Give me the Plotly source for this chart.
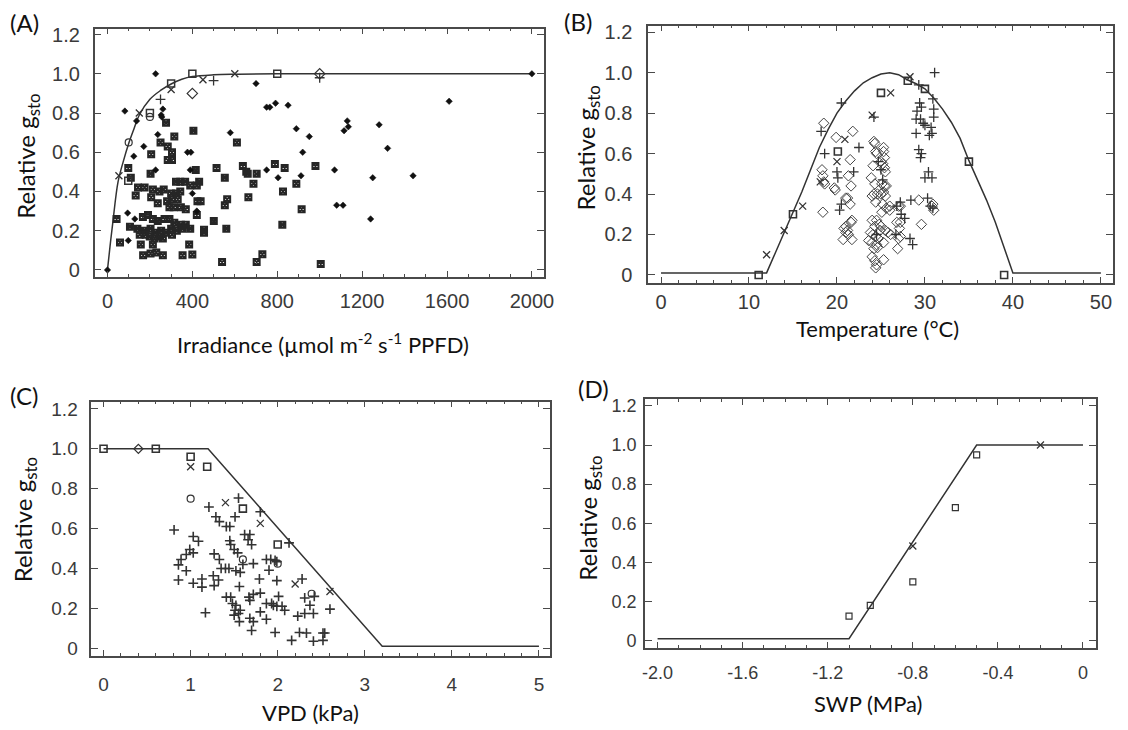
import plotly.graph_objects as go

# ---------------- Panel A : Irradiance ----------------
A_curve_x = [0, 12, 25, 50, 75, 100, 125, 150, 200, 250, 300, 350, 400, 500, 600, 800, 2000]
A_curve_y = [0, 0.12, 0.24, 0.45, 0.555, 0.645, 0.72, 0.79, 0.87, 0.915, 0.948, 0.972, 0.986, 0.995, 0.998, 1.0, 1.0]

A_star_x = [276, 405, 250, 315, 284, 304, 206, 284, 304, 98, 110, 203, 416, 43, 59, 106, 144, 175, 133, 214, 245, 265,
            300, 323, 343, 206, 237, 281, 304, 331, 292, 312, 346, 369, 323, 343, 366, 390, 421, 432, 424, 439, 421,
            167, 191, 214, 237, 269, 292, 315, 346, 369, 141, 175, 203, 225, 253, 276, 300, 327, 354, 390, 152, 180,
            199, 222, 245, 261, 214, 304, 157, 385, 168, 203, 230, 261, 354, 400, 455, 455, 501, 560, 553, 564, 514,
            553, 610, 638, 654, 661, 688, 664, 703, 789, 827, 824, 540, 703, 730, 835, 890, 980, 915, 1005]
A_star_y = [0.75, 0.71, 0.65, 0.68, 0.63, 0.60, 0.59, 0.56, 0.56, 0.52, 0.47, 0.49, 0.51, 0.26, 0.14, 0.22, 0.42, 0.42,
            0.38, 0.41, 0.40, 0.41, 0.39, 0.39, 0.40, 0.37, 0.34, 0.35, 0.36, 0.36, 0.32, 0.32, 0.32, 0.31, 0.45, 0.45,
            0.45, 0.43, 0.43, 0.45, 0.35, 0.35, 0.28, 0.27, 0.28, 0.26, 0.25, 0.26, 0.26, 0.24, 0.23, 0.23, 0.21, 0.20,
            0.21, 0.19, 0.20, 0.19, 0.21, 0.20, 0.21, 0.21, 0.18, 0.18, 0.17, 0.16, 0.17, 0.16, 0.13, 0.18, 0.13, 0.13,
            0.075, 0.084, 0.089, 0.075, 0.075, 0.079, 0.205, 0.19, 0.25, 0.21, 0.33, 0.36, 0.52, 0.47, 0.65, 0.53,
            0.50, 0.49, 0.44, 0.37, 0.49, 0.54, 0.40, 0.23, 0.04, 0.04, 0.08, 0.52, 0.44, 0.53, 0.31, 0.03]

A_dot_x = [82, 137, 261, 253, 256, 237, 171, 124, 377, 393, 227, 390, 95, 98, 129, 400, 421, 579, 750, 804, 750, 765,
           792, 851, 700, 227, 1610, 890, 951, 920, 1130, 1135, 1115, 1280, 1320, 1070, 1250, 1440, 1080, 1110, 1240,
           0, 2000, 912]
A_dot_y = [0.81, 0.76, 0.82, 0.79, 0.78, 0.69, 0.63, 0.58, 0.60, 0.60, 0.51, 0.51, 0.29, 0.15, 0.26, 0.39, 0.30, 0.70,
           0.51, 0.47, 0.83, 0.83, 0.85, 0.84, 0.95, 1.0, 0.86, 0.72, 0.68, 0.60, 0.76, 0.73, 0.71, 0.74, 0.62, 0.51,
           0.47, 0.48, 0.33, 0.33, 0.26, 0.0, 1.0, 0.48]

A_sq_x = [98, 200, 300, 400, 800]
A_sq_y = [0.455, 0.80, 0.95, 1.0, 1.0]
A_x_x = [54, 150, 300, 450, 600]
A_x_y = [0.48, 0.80, 0.92, 0.97, 1.0]
A_plus_x = [250, 500, 1000]
A_plus_y = [0.87, 0.965, 0.98]
A_dia_x = [400, 1000]
A_dia_y = [0.90, 1.0]
A_circ_x = [100, 200]
A_circ_y = [0.65, 0.78]

# ---------------- Panel B : Temperature ----------------
B_curve_x = [0, 12, 13, 14, 15, 16, 17, 18, 19, 20, 21, 22, 23, 24, 25, 26, 27, 28, 29, 30, 31, 32, 33, 34, 35, 36,
             37, 38, 39, 40, 50]
B_curve_y = [0.01, 0.01, 0.11, 0.21, 0.31, 0.41, 0.52, 0.63, 0.72, 0.80, 0.86, 0.91, 0.95, 0.975, 0.993, 1.0, 0.99,
             0.965, 0.945, 0.92, 0.875, 0.82, 0.755, 0.675, 0.565, 0.47, 0.37, 0.26, 0.14, 0.01, 0.01]

B_sq_x = [11.1, 15.0, 20.1, 25.0, 28.05, 30.0, 35.0, 39.0]
B_sq_y = [0.0, 0.30, 0.61, 0.90, 0.96, 0.92, 0.56, 0.0]
B_x_x = [12.0, 14.0, 16.1, 18.1, 20.0, 20.9, 24.0, 26.1, 28.3]
B_x_y = [0.10, 0.22, 0.34, 0.46, 0.56, 0.67, 0.79, 0.90, 0.98]
B_plus_x = [29.3, 29.4, 29.6, 29.1, 29.0, 29.5, 29.0, 29.3, 29.5, 29.6, 29.8, 30.0, 30.7, 30.8, 30.5, 30.9, 31.0,
            31.0, 30.0, 30.4, 30.8, 30.3, 30.6, 30.9, 28.4, 27.3, 27.7, 28.3, 28.6, 27.2, 31.1, 26.8, 25.0, 24.7,
            25.2, 24.2, 22.5, 21.9, 20.0, 20.1, 20.5, 20.3, 18.6, 18.2, 20.5, 26.7, 24.5]
B_plus_y = [0.94, 0.85, 0.83, 0.81, 0.77, 0.77, 0.70, 0.62, 0.58, 0.60, 0.75, 0.74, 0.73, 0.70, 0.69, 0.87, 0.82,
            0.78, 0.48, 0.51, 0.48, 0.38, 0.34, 0.33, 0.37, 0.30, 0.28, 0.18, 0.15, 0.36, 1.0, 0.34, 0.52, 0.56,
            0.47, 0.78, 0.63, 0.51, 0.51, 0.48, 0.35, 0.32, 0.60, 0.71, 0.85, 0.20, 0.20]
B_dia_x = [18.3, 18.4, 18.5, 18.6, 18.4, 18.5, 19.9, 19.7, 19.8, 21.8, 21.5, 21.3, 21.6, 21.5, 21.2, 21.0, 21.7, 21.6,
           21.0, 21.2, 21.0, 21.3, 20.8, 20.7, 21.7, 24.2, 24.3, 24.4, 24.5, 25.3, 25.3, 25.4, 25.0, 25.2, 25.4, 25.5,
           24.1, 23.9, 24.3, 25.1, 25.4, 25.6, 24.2, 24.6, 25.3, 25.0, 24.0, 25.5, 24.4, 25.2, 25.6, 26.0, 25.1, 24.0,
           24.5, 24.8, 24.3, 24.9, 23.8, 24.1, 24.4, 24.7, 23.6, 24.0, 24.5, 25.3, 24.2, 24.0, 24.3, 24.5, 24.4, 25.3,
           25.8, 26.1, 25.5, 25.0, 26.0, 24.6, 27.0, 27.2, 26.8, 27.2, 27.1, 27.2, 27.0, 26.9, 29.3, 29.6, 30.9, 31.0,
           30.8]
B_dia_y = [0.52, 0.49, 0.46, 0.45, 0.31, 0.75, 0.68, 0.43, 0.42, 0.71, 0.57, 0.49, 0.44, 0.35, 0.38, 0.38, 0.27, 0.26,
           0.24, 0.22, 0.21, 0.20, 0.23, 0.175, 0.175, 0.66, 0.65, 0.61, 0.60, 0.63, 0.61, 0.58, 0.56, 0.55, 0.53, 0.51,
           0.54, 0.48, 0.45, 0.45, 0.44, 0.44, 0.40, 0.40, 0.41, 0.40, 0.39, 0.39, 0.36, 0.35, 0.33, 0.34, 0.31, 0.27,
           0.27, 0.25, 0.24, 0.22, 0.21, 0.20, 0.19, 0.18, 0.17, 0.16, 0.15, 0.16, 0.13, 0.09, 0.07, 0.05, 0.035, 0.075,
           0.21, 0.20, 0.22, 0.24, 0.32, 0.135, 0.34, 0.34, 0.26, 0.26, 0.23, 0.19, 0.18, 0.13, 0.37, 0.25, 0.35, 0.32,
           0.34]

# ---------------- Panel C : VPD ----------------
C_curve_x = [0, 1.2, 3.2, 5.0]
C_curve_y = [1.0, 1.0, 0.01, 0.01]

C_sq_x = [0.0, 0.6, 1.0, 1.19, 1.6, 2.0]
C_sq_y = [1.0, 1.0, 0.96, 0.91, 0.70, 0.52]
C_dia_x = [0.4]
C_dia_y = [1.0]
C_circ_x = [1.0, 1.6, 2.0, 2.39]
C_circ_y = [0.75, 0.445, 0.424, 0.273]
C_x_x = [1.0, 1.4, 1.8, 2.2, 2.6]
C_x_y = [0.91, 0.73, 0.626, 0.322, 0.284]
C_plus_x = [0.81, 1.21, 1.29, 1.33, 1.41, 1.45, 1.55, 1.51, 1.62, 1.66, 1.70, 1.80, 2.13, 1.03, 1.09, 0.99, 1.03,
            0.95, 0.89, 0.86, 0.95, 0.86, 1.03, 1.13, 1.13, 1.17, 1.27, 1.33, 1.35, 1.40, 1.44, 1.26, 1.32, 1.27,
            1.45, 1.46, 1.50, 1.54, 1.52, 1.57, 1.41, 1.46, 1.48, 1.52, 1.51, 1.57, 1.50, 1.55, 1.56, 1.56, 1.60,
            1.72, 1.67, 1.68, 1.72, 1.68, 1.72, 1.70, 1.79, 1.80, 1.80, 1.87, 1.93, 1.87, 1.87, 1.92, 1.97, 1.99,
            1.90, 1.95, 1.99, 1.99, 2.01, 2.05, 2.08, 1.97, 2.23, 2.28, 2.31, 2.37, 2.42, 2.41, 2.31, 2.25, 2.33,
            2.16, 2.41, 2.52, 2.54, 2.52, 2.60, 1.68]
C_plus_y = [0.593, 0.708, 0.659, 0.635, 0.61, 0.61, 0.753, 0.659, 0.57, 0.544, 0.519, 0.684, 0.528, 0.56, 0.536,
            0.495, 0.478, 0.47, 0.445, 0.418, 0.388, 0.342, 0.326, 0.347, 0.306, 0.178, 0.473, 0.445, 0.40, 0.40,
            0.40, 0.363, 0.342, 0.314, 0.539, 0.52, 0.495, 0.478, 0.388, 0.38, 0.256, 0.256, 0.224, 0.215, 0.19,
            0.19, 0.166, 0.174, 0.309, 0.133, 0.42, 0.424, 0.256, 0.24, 0.27, 0.15, 0.133, 0.089, 0.347, 0.276,
            0.182, 0.224, 0.224, 0.145, 0.445, 0.445, 0.44, 0.434, 0.391, 0.215, 0.21, 0.339, 0.26, 0.21, 0.19,
            0.079, 0.161, 0.347, 0.252, 0.215, 0.26, 0.174, 0.174, 0.079, 0.076, 0.039, 0.035, 0.076, 0.076,
            0.039, 0.196, 0.57]

# ---------------- Panel D : SWP ----------------
D_curve_x = [-2.0, -1.1, -0.5, 0.0]
D_curve_y = [0.01, 0.01, 1.0, 1.0]
D_sq_x = [-1.10, -1.00, -0.80, -0.60, -0.50]
D_sq_y = [0.125, 0.18, 0.30, 0.68, 0.95]
D_x_x = [-0.80, -0.20]
D_x_y = [0.484, 1.0]

# ---------------- Figure ----------------
W, H = 1128, 730
INK = "#333333"
FRAME = "#4a4a4a"
TICKFONT = "Liberation Sans"
TITLEFONT = "Lato"


def px(x):
    return x / W


def py(y):
    return 1 - y / H


fig = go.Figure()


def add_pts(ax, xs, ys, symbol, size, lw, color=INK):
    fig.add_trace(go.Scatter(x=xs, y=ys, xaxis="x" + ax, yaxis="y" + ax, mode="markers",
                             marker=dict(symbol=symbol, size=size, color=color,
                                         line=dict(width=lw, color=color)),
                             showlegend=False, hoverinfo="skip"))


def add_curve(ax, xs, ys, shape="linear"):
    fig.add_trace(go.Scatter(x=xs, y=ys, xaxis="x" + ax, yaxis="y" + ax, mode="lines",
                             line=dict(color=INK, width=1.5, shape=shape),
                             showlegend=False, hoverinfo="skip"))


# Panel A (axes "" -> x/y)
add_curve("", A_curve_x, A_curve_y, "spline")
add_pts("", A_star_x, A_star_y, "square-x-open", 6, 2.0, "#262626")
add_pts("", A_dot_x, A_dot_y, "diamond", 5, 0.5, "#111111")
add_pts("", A_sq_x, A_sq_y, "square-open", 7, 1.5)
add_pts("", A_x_x, A_x_y, "x-thin-open", 7, 1.3)
add_pts("", A_plus_x, A_plus_y, "cross-thin-open", 7, 1.3)
add_pts("", A_dia_x, A_dia_y, "diamond-open", 8, 1.2)
add_pts("", A_circ_x, A_circ_y, "circle-open", 7, 1.2)

# Panel B
add_curve("2", B_curve_x, B_curve_y)
add_pts("2", B_dia_x, B_dia_y, "diamond-open", 8, 1.0, "#444444")
add_pts("2", B_plus_x, B_plus_y, "cross-thin-open", 7, 1.3)
add_pts("2", B_x_x, B_x_y, "x-thin-open", 7, 1.3)
add_pts("2", B_sq_x, B_sq_y, "square-open", 7, 1.6)

# Panel C
add_curve("3", C_curve_x, C_curve_y)
add_pts("3", C_plus_x, C_plus_y, "cross-thin-open", 7, 1.6)
add_pts("3", C_x_x, C_x_y, "x-thin-open", 7, 1.3)
add_pts("3", C_sq_x, C_sq_y, "square-open", 7, 1.6)
add_pts("3", C_circ_x, C_circ_y, "circle-open", 7, 1.2)
add_pts("3", C_dia_x, C_dia_y, "diamond-open", 7, 1.2)

# Panel D
add_curve("4", D_curve_x, D_curve_y)
add_pts("4", D_sq_x, D_sq_y, "square-open", 6, 1.2)
add_pts("4", D_x_x, D_x_y, "x-thin-open", 7, 1.2)


def xaxis(domain, rng, dtick, minor_dtick, standoff, fs, tickvals=None, ticktext=None, anchor="y"):
    d = dict(domain=domain, range=rng, anchor=anchor, showgrid=False, zeroline=False,
             showline=True, linecolor=FRAME, linewidth=1.5, mirror="ticks",
             ticks="inside", ticklen=6, tickwidth=1.3, tickcolor=FRAME,
             minor=dict(ticks="inside", ticklen=3, tickwidth=1.1, tickcolor=FRAME, dtick=minor_dtick),
             tickfont=dict(family=TICKFONT, size=fs, color="#3a3a3a"),
             ticklabelstandoff=standoff, fixedrange=True)
    if tickvals is not None:
        d.update(tickmode="array", tickvals=tickvals, ticktext=ticktext)
    else:
        d.update(tick0=0, dtick=dtick)
    return d


YT = [0, 0.2, 0.4, 0.6, 0.8, 1.0, 1.2]
YL = ["0", "0.2", "0.4", "0.6", "0.8", "1.0", "1.2"]


def yaxis(domain, rng, standoff, fs, anchor):
    return dict(domain=domain, range=rng, anchor=anchor, showgrid=False, zeroline=False,
                showline=True, linecolor=FRAME, linewidth=1.5, mirror="ticks",
                ticks="inside", ticklen=7, tickwidth=1.3, tickcolor=FRAME,
                tickmode="array", tickvals=YT, ticktext=YL,
                tickfont=dict(family=TICKFONT, size=fs, color="#3a3a3a"),
                ticklabelstandoff=standoff, fixedrange=True)


# pixel boxes (left, right, top, bottom)
boxA = (92.7, 547.3, 24, 275)
boxB = (652.7, 1122.7, 21, 281.7)
boxC = (89.3, 553.3, 401.7, 659)
boxD = (649.3, 1105.5, 399, 650.7)


def dom(b):
    return [px(b[0]), px(b[1])], [py(b[3]), py(b[2])]


dAx, dAy = dom(boxA)
dBx, dBy = dom(boxB)
dCx, dCy = dom(boxC)
dDx, dDy = dom(boxD)

fig.update_layout(
    width=W, height=H, margin=dict(l=0, r=0, t=0, b=0),
    paper_bgcolor="white", plot_bgcolor="white", showlegend=False,
    xaxis=xaxis(dAx, [-60.5, 2057], 400, 100, 6, 20, anchor="y"),
    yaxis=yaxis(dAy, [-0.034, 1.230], 9, 20, "x"),
    xaxis2=xaxis(dBx, [-1.46, 51.35], 10, 2, 0, 20, anchor="y2"),
    yaxis2=yaxis(dBy, [-0.041, 1.232], 10, 20, "x2"),
    xaxis3=xaxis(dCx, [-0.141, 5.126], 1, 0.2, 11, 19, anchor="y3"),
    yaxis3=yaxis(dCy, [-0.0386, 1.236], 8, 19, "x3"),
    xaxis4=xaxis(dDx, [-2.060, 0.060], None, 0.1, 8, 18,
                 tickvals=[-2.0, -1.6, -1.2, -0.8, -0.4, 0.0],
                 ticktext=["-2.0", "-1.6", "-1.2", "-0.8", "-0.4", "0"], anchor="y4"),
    yaxis4=yaxis(dDy, [-0.036, 1.235], 3, 18, "x4"),
)
fig.layout.xaxis4.minor.tick0 = 0


def label(text, x, y, size, angle=0, color="#111111"):
    fig.add_annotation(text=text, x=px(x), y=py(y), xref="paper", yref="paper",
                       xanchor="center", yanchor="middle", showarrow=False, textangle=angle,
                       font=dict(family=TITLEFONT, size=size, color=color))


# panel letters
label("(A)", 22, 18, 24)
label("(B)", 582, 17, 24)
label("(C)", 21, 395, 24)
label("(D)", 597, 388, 24)

# y-axis titles
ytitle = "Relative g<sub>sto</sub>"
label(ytitle, 24, 153, 24, -90)
label(ytitle, 591, 145, 24, -90)
label(ytitle, 22, 521, 24, -90)
label(ytitle, 593, 520, 24, -90)

# x-axis titles
label("Irradiance (µmol m<sup>-2</sup> s<sup>-1</sup> PPFD)", 323.5, 343, 22)
label("Temperature (°C)", 885, 328, 22)
label("VPD (kPa)", 311, 716, 22)
label("SWP (MPa)", 875, 707, 22)

fig.write_html("out.html")
